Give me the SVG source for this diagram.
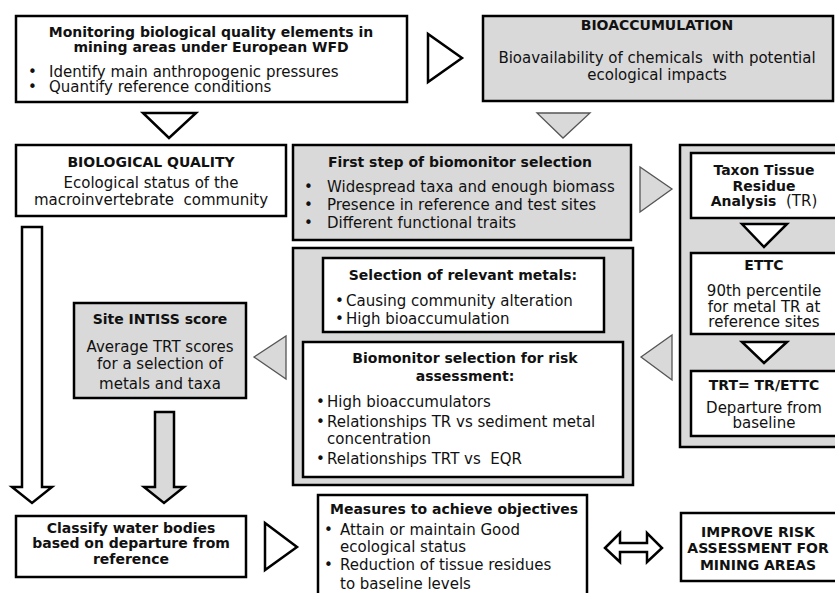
<svg xmlns="http://www.w3.org/2000/svg" width="835" height="593" viewBox="0 0 835 593">
<style>
.bx{stroke:#000;stroke-width:2.5}
.w{fill:#fff}
.g{fill:#d9d9d9}
.tw{fill:#fff;stroke:#000;stroke-width:2.5;stroke-linejoin:miter}
.tg{fill:#d9d9d9;stroke:#555;stroke-width:1.3}
text{font-family:"DejaVu Sans","Liberation Sans",Arial,sans-serif;fill:#111;white-space:pre}
.t{font-size:14px;font-weight:bold}
.r{font-size:15px}
.c{text-anchor:middle}
</style>
<rect width="835" height="593" fill="#fff"/>
<g id="monitoring">
<rect class="bx w" x="16" y="16" width="391" height="86"/>
<text class="t c" x="211" y="37">Monitoring biological quality elements in</text>
<text class="t c" x="211" y="52">mining areas under European WFD</text>
<text class="r" x="28" y="77">•</text>
<text class="r" x="49" y="77">Identify main anthropogenic pressures</text>
<text class="r" x="28" y="92">•</text>
<text class="r" x="49" y="92">Quantify reference conditions</text>
</g>
<g id="bioaccumulation">
<rect class="bx g" x="483" y="16" width="350" height="85"/>
<text class="t c" x="657" y="30">BIOACCUMULATION</text>
<text class="r c" x="657" y="63">Bioavailability of chemicals  with potential</text>
<text class="r c" x="657" y="80">ecological impacts</text>
</g>
<g id="biological-quality">
<rect class="bx w" x="16" y="145" width="270" height="71"/>
<text class="t c" x="151" y="167">BIOLOGICAL QUALITY</text>
<text class="r c" x="151" y="188">Ecological status of the</text>
<text class="r c" x="151" y="205">macroinvertebrate  community</text>
</g>
<g id="first-step">
<rect class="bx g" x="293" y="145" width="338" height="95"/>
<text class="t c" x="460" y="167">First step of biomonitor selection</text>
<text class="r" x="304" y="192">•</text>
<text class="r" x="327" y="192">Widespread taxa and enough biomass</text>
<text class="r" x="304" y="210">•</text>
<text class="r" x="327" y="210">Presence in reference and test sites</text>
<text class="r" x="304" y="228">•</text>
<text class="r" x="327" y="228">Different functional traits</text>
</g>
<g id="tissue-column">
<rect class="bx g" x="680" y="145" width="170" height="302"/>
<g id="taxon-tissue">
<rect class="bx w" x="691" y="153" width="160" height="65"/>
<text class="t c" x="764" y="175">Taxon Tissue</text>
<text class="t c" x="764" y="191">Residue</text>
<text class="c" x="764" y="206"><tspan class="t">Analysis</tspan><tspan class="r">  (TR)</tspan></text>
</g>
<g id="ettc">
<rect class="bx w" x="691" y="253" width="160" height="81"/>
<text class="t c" x="764" y="270">ETTC</text>
<text class="r c" x="764" y="296">90th percentile</text>
<text class="r c" x="764" y="312">for metal TR at</text>
<text class="r c" x="764" y="327">reference sites</text>
</g>
<g id="trt">
<rect class="bx w" x="691" y="371" width="160" height="65"/>
<text class="t c" x="764" y="390">TRT= TR/ETTC</text>
<text class="r c" x="764" y="413">Departure from</text>
<text class="r c" x="764" y="428">baseline</text>
</g>
</g>
<g id="selection-container">
<rect class="bx g" x="293" y="248" width="340" height="237"/>
<g id="relevant-metals">
<rect class="bx w" x="323" y="258" width="281" height="74"/>
<text class="t c" x="463" y="280">Selection of relevant metals:</text>
<text class="r" x="335" y="306">•</text>
<text class="r" x="346" y="306">Causing community alteration</text>
<text class="r" x="335" y="324">•</text>
<text class="r" x="346" y="324">High bioaccumulation</text>
</g>
<g id="risk-assessment">
<rect class="bx w" x="303" y="342" width="320" height="135"/>
<text class="t c" x="465" y="363">Biomonitor selection for risk</text>
<text class="t c" x="465" y="381">assessment:</text>
<text class="r" x="316" y="407">•</text>
<text class="r" x="327" y="407">High bioaccumulators</text>
<text class="r" x="316" y="427">•</text>
<text class="r" x="327" y="427">Relationships TR vs sediment metal</text>
<text class="r" x="327" y="444">concentration</text>
<text class="r" x="316" y="464">•</text>
<text class="r" x="327" y="464">Relationships TRT vs  EQR</text>
</g>
</g>
<g id="intiss">
<rect class="bx g" x="74" y="303" width="172" height="95"/>
<text class="t c" x="160" y="324">Site INTISS score</text>
<text class="r c" x="160" y="352">Average TRT scores</text>
<text class="r c" x="160" y="369">for a selection of</text>
<text class="r c" x="160" y="389">metals and taxa</text>
</g>
<g id="classify">
<rect class="bx w" x="16" y="516" width="230" height="61"/>
<text class="t c" x="131" y="533">Classify water bodies</text>
<text class="t c" x="131" y="548">based on departure from</text>
<text class="t c" x="131" y="564">reference</text>
</g>
<g id="measures">
<rect class="bx w" x="318" y="495" width="269" height="110"/>
<text class="t" x="330" y="514">Measures to achieve objectives</text>
<text class="r" x="324" y="535">•</text>
<text class="r" x="340" y="535">Attain or maintain Good</text>
<text class="r" x="340" y="552">ecological status</text>
<text class="r" x="324" y="570">•</text>
<text class="r" x="340" y="570">Reduction of tissue residues</text>
<text class="r" x="340" y="589">to baseline levels</text>
</g>
<g id="improve">
<rect class="bx w" x="681" y="513" width="165" height="68"/>
<text class="t c" x="758" y="537">IMPROVE RISK</text>
<text class="t c" x="758" y="553">ASSESSMENT FOR</text>
<text class="t c" x="758" y="570">MINING AREAS</text>
</g>
<g id="connectors">
<polygon class="tw" points="143,113 196,113 169,138"/>
<polygon class="tw" points="428,34 428,82 462,58"/>
<polygon class="tg" points="537,113 590,113 563,138"/>
<polygon class="tg" points="640,167 640,212 672,189"/>
<polygon class="tg" points="672,335 672,380 641,357"/>
<polygon class="tg" points="286,336 286,379 254,357"/>
<polygon class="tw" points="742,224 787,224 764,247"/>
<polygon class="tw" points="742,342 787,342 764,363"/>
<polygon class="tw" points="265,523 265,570 297,547"/>
<path class="tw" d="M22,227 H42 V487 H52 L32,503 L12,487 H22 Z"/>
<path class="bx g" d="M155,412 H174 V487 H184 L164,503 L144,487 H155 Z"/>
<path class="tw" d="M605,548 L620,533 V543 H647 V533 L662,548 L647,562 V552 H620 V562 Z"/>
</g>
</svg>
